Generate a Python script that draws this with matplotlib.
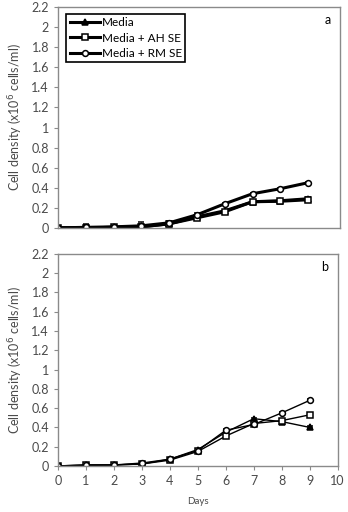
import matplotlib
matplotlib.use("Agg")
import matplotlib.pyplot as plt
from matplotlib.ticker import FuncFormatter

days = [0, 1, 2, 3, 4, 5, 6, 7, 8, 9]
series_labels = ["Media", "Media + AH SE", "Media + RM SE"]

# Panel a
a_media = [0.0, 0.0, 0.005, 0.01, 0.04, 0.11, 0.17, 0.26, 0.27, 0.29]
a_ah = [0.0, 0.0, 0.005, 0.01, 0.04, 0.10, 0.16, 0.26, 0.265, 0.28]
a_rm = [0.0, 0.005, 0.01, 0.02, 0.05, 0.13, 0.24, 0.34, 0.39, 0.45]
a_media_err = [0.0, 0.03, 0.01, 0.03, 0.02, 0.01, 0.01, 0.01, 0.01, 0.02]
a_ah_err = [0.0, 0.01, 0.01, 0.01, 0.01, 0.01, 0.01, 0.01, 0.01, 0.02]
a_rm_err = [0.0, 0.03, 0.01, 0.04, 0.02, 0.02, 0.01, 0.01, 0.01, 0.01]

# Panel b
b_media = [0.0, 0.01, 0.01, 0.02, 0.07, 0.17, 0.35, 0.49, 0.46, 0.40]
b_ah = [0.0, 0.01, 0.01, 0.02, 0.06, 0.15, 0.31, 0.44, 0.47, 0.53]
b_rm = [0.0, 0.005, 0.01, 0.03, 0.07, 0.16, 0.37, 0.43, 0.55, 0.68]
b_media_err = [0.0, 0.01, 0.01, 0.01, 0.01, 0.01, 0.01, 0.01, 0.01, 0.01]
b_ah_err = [0.0, 0.01, 0.01, 0.01, 0.01, 0.01, 0.01, 0.01, 0.01, 0.02]
b_rm_err = [0.0, 0.01, 0.01, 0.01, 0.01, 0.01, 0.01, 0.01, 0.01, 0.01]

y_ticks = [0, 0.2, 0.4, 0.6, 0.8, 1.0, 1.2, 1.4, 1.6, 1.8, 2.0, 2.2]
x_ticks = [0, 1, 2, 3, 4, 5, 6, 7, 8, 9, 10]

plt.rcParams["font.family"] = ["Lato", "DejaVu Sans"]
fig = plt.figure(figsize=(3.48, 5.12), dpi=100)
ax_a = fig.add_axes([0.167, 0.555, 0.81, 0.431])
ax_b = fig.add_axes([0.167, 0.09, 0.803, 0.414])

grey = "#8a8a8a"
tick_col = "#4a4a4a"
fmt = FuncFormatter(lambda v, p: "%g" % round(v, 1))


def draw(ax, data, errs, lw, ms):
    markers = ["^", "s", "o"]
    lines = []
    for vals, err, m, lab in zip(data, errs, markers, series_labels):
        face = "black" if m == "^" else "white"
        c = ax.errorbar(days, vals, yerr=err, color="black", lw=lw, marker=m,
                        ms=ms, mfc=face, mec="black", mew=1.1, capsize=2,
                        elinewidth=0.8, label=lab)
        lines.append(c[0])
    ax.set_ylim(0, 2.2)
    ax.set_yticks(y_ticks)
    ax.yaxis.set_major_formatter(fmt)
    for s in ax.spines.values():
        s.set_color(grey)
        s.set_linewidth(1.0)
    ax.tick_params(direction="out", length=3, color=grey, labelsize=9,
                   labelcolor=tick_col, width=0.8)
    ax.set_ylabel("Cell density (x10$^6$ cells/ml)", fontsize=9,
                  color=tick_col, labelpad=5)
    return lines


lines_a = draw(ax_a, [a_media, a_ah, a_rm], [a_media_err, a_ah_err, a_rm_err], 2.2, 4.2)
ax_a.set_xlim(0, 10.15)
ax_a.set_xticks(x_ticks)
ax_a.tick_params(axis="x", length=0, labelbottom=False)
ax_a.text(0.955, 0.94, "a", transform=ax_a.transAxes, fontsize=9,
          ha="center", va="center", color="black")
leg = ax_a.legend(lines_a, series_labels, loc="upper left",
                  bbox_to_anchor=(0.02, 0.98), fontsize=8.5,
                  frameon=True, fancybox=False, edgecolor="black",
                  handlelength=2.6, handletextpad=0.1, borderpad=0.3,
                  labelspacing=0.35, borderaxespad=0.2, framealpha=1)
leg.get_frame().set_linewidth(1.2)

draw(ax_b, [b_media, b_ah, b_rm], [b_media_err, b_ah_err, b_rm_err], 1.0, 4.2)
ax_b.set_xlim(0, 10)
ax_b.set_xticks(x_ticks)
ax_b.text(0.955, 0.94, "b", transform=ax_b.transAxes, fontsize=9,
          ha="center", va="center", color="black")
ax_b.set_xlabel("Days", fontsize=7, color=tick_col, labelpad=7)

fig.savefig("out.png", dpi=100)
